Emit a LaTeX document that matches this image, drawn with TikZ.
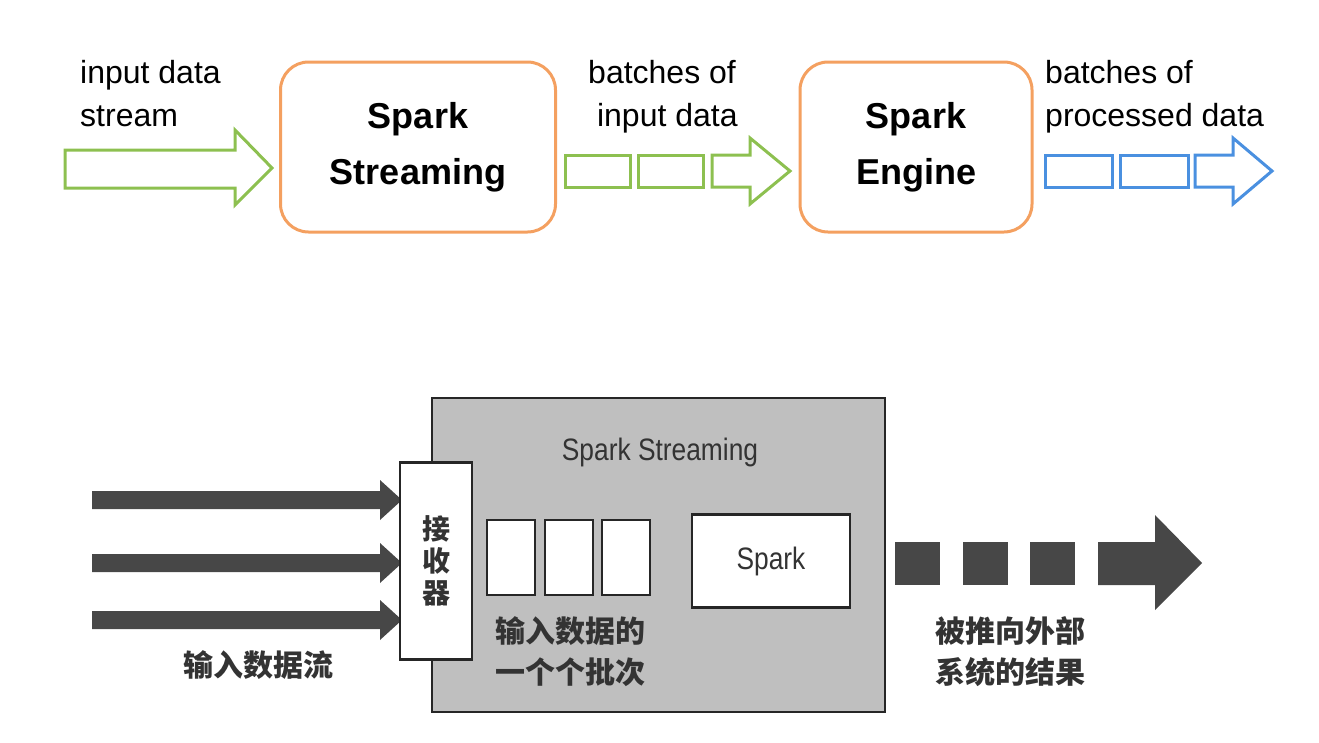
\documentclass[tikz,border=0pt]{standalone}
\usepackage{fontspec}
\setmainfont{Liberation Sans}
\newfontfamily\cjk{Noto Sans CJK SC}
\begin{document}
\begin{tikzpicture}[x=1pt,y=-1pt,
  obox/.style={line width=3pt,rounded corners=28pt,fill=white},
  txt/.style={font=\fontsize{32}{43}\selectfont,align=left,anchor=north west,inner sep=0pt},
  big/.style={font=\bfseries\fontsize{36}{56}\selectfont,align=center},
  zh/.style={font=\cjk\bfseries\fontsize{30}{41}\selectfont,align=left,text=black!80}]
\useasboundingbox (0,0) rectangle (1319,742);
\definecolor{g1}{HTML}{8DC050}\definecolor{b1}{HTML}{4A90E0}\definecolor{o1}{HTML}{F4A060}
% top
\draw[draw=g1,line width=3pt,line join=miter] (65,150)--(235,150)--(235,130)--(272,168)--(235,205)--(235,188)--(65,188)--cycle;
\node[txt] (t1) at (80,60) {input data\\stream};
\node[obox,draw=o1,minimum width=275pt,minimum height=170pt] (ss) at (418,147) {};
\node[big] at (ss) {Spark\\Streaming};
\draw[draw=g1,line width=3pt] (565,155) rectangle (630,187) (638,155) rectangle (703,187);
\draw[draw=g1,line width=3pt] (712,155)--(750,155)--(750,138)--(790,171)--(750,204)--(750,187)--(712,187)--cycle;
\node[txt] (t2) at (588,60) {batches of\\\ input data};
\node[obox,draw=o1,minimum width=232pt,minimum height=170pt] (se) at (916,147) {};
\node[big] at (se) {Spark\\Engine};
\draw[draw=b1,line width=3pt] (1045,155) rectangle (1112,187) (1120,155) rectangle (1188,187);
\draw[draw=b1,line width=3pt] (1195,155)--(1233,155)--(1233,138)--(1272,171)--(1233,204)--(1233,187)--(1195,187)--cycle;
\node[txt] (t3) at (1045,60) {batches of\\processed data};
% bottom
\node[draw=black!85,line width=2.5pt,fill=black!25,minimum width=453pt,minimum height=314pt] (g) at (658.5,555) {};
\node[font=\fontsize{31}{36}\selectfont,text=black!80,xscale=0.85] at (660,452) {Spark Streaming};
\foreach \y in {500,563,620}{
 \fill[black!72] (92,\y-9)--(380,\y-9)--(380,\y-20)--(402,\y)--(380,\y+20)--(380,\y+9)--(92,\y+9)--cycle;}
\node[draw=black!85,line width=2.5pt,fill=white,minimum width=72pt,minimum height=197pt] (r) at (436,561) {};
\node[zh,align=center,font=\cjk\bfseries\fontsize{28}{32}\selectfont] at (r) {接\\收\\器};
\foreach \x in {487,545,602}{\draw[black!85,line width=2.5pt,fill=white] (\x,520) rectangle (\x+48,595);}
\node[draw=black!85,line width=2.5pt,fill=white,minimum width=158pt,minimum height=93pt] (sp) at (771,561) {};
\node[font=\fontsize{31}{36}\selectfont,text=black!80,xscale=0.85] at (sp) {Spark};
\node[zh] at (570,652) {输入数据的\\一个个批次};
\node[zh] at (258,665) {输入数据流};
\foreach \x in {895,963,1030}{\fill[black!72] (\x,542) rectangle (\x+45,585);}
\fill[black!72] (1098,542)--(1155,542)--(1155,515)--(1202,563)--(1155,610)--(1155,585)--(1098,585)--cycle;
\node[zh] at (1010,652) {被推向外部\\系统的结果};
\end{tikzpicture}
\end{document}
